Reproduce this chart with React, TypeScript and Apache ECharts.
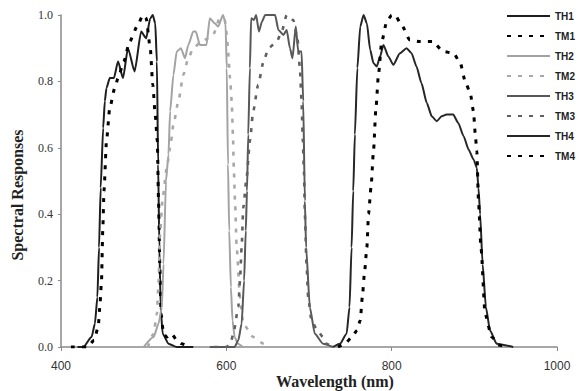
import React, { useEffect, useRef } from "react";
import * as echarts from "echarts";

// Wavelength (nm) / response pairs
const TH1: number[][] = [[420,0],[427,0],[437,0.03],[441,0.07],[444,0.15],[446,0.30],[448,0.48],[451,0.66],[453,0.74],[455,0.78],[459,0.81],[464,0.81],[469,0.86],[475,0.81],[481,0.90],[489,0.83],[497,0.95],[503,0.93],[508,0.99],[511,1.0],[514,0.975],[516,0.86],[517.5,0.55],[519,0.30],[520.5,0.12],[523,0.04],[530,0.01],[540,0],[560,0]];
const TM1: number[][] = [[412,0],[432,0],[440,0.02],[445,0.06],[447,0.12],[449,0.20],[450.5,0.35],[452,0.47],[455,0.62],[459,0.72],[465,0.78],[469,0.81],[476,0.86],[483,0.92],[493,0.97],[499,1.0],[503,0.99],[508,0.90],[511,0.79],[514,0.70],[516.5,0.62],[518,0.44],[519.5,0.25],[521,0.10],[524,0.04],[528,0.03],[534,0.04],[540,0.02],[546,0.01],[555,0]];
const TH2: number[][] = [[500,0],[512,0.03],[518,0.07],[522,0.12],[524,0.25],[527,0.50],[530,0.58],[532,0.71],[536,0.82],[540,0.89],[545,0.90],[550,0.87],[554,0.91],[560,0.95],[563,0.95],[568,0.91],[576,0.91],[580,0.99],[586,0.975],[590,0.965],[596,1.0],[599,0.975],[600.5,0.84],[602,0.55],[603.5,0.35],[605.5,0.18],[607.5,0.08],[610,0.03],[614,0.01],[620,0]];
const TM2: number[][] = [[505,0],[512,0.04],[516,0.10],[518,0.20],[520,0.35],[523,0.45],[528,0.54],[532,0.60],[536,0.67],[542,0.74],[548,0.82],[554,0.87],[560,0.90],[570,0.92],[578,0.93],[584,0.94],[592,0.99],[598,0.985],[600.5,0.945],[602,0.89],[604.5,0.81],[606.5,0.74],[608,0.64],[609,0.54],[610.5,0.44],[612.5,0.30],[616.5,0.15],[620.5,0.07],[632.5,0.03],[645,0.01],[650,0]];
const TH3: number[][] = [[580,0],[610,0],[614.5,0.02],[618.5,0.07],[621.5,0.20],[623.5,0.35],[625,0.47],[626.5,0.64],[628.5,0.84],[630,0.99],[633.5,0.985],[636,1.0],[639.5,0.95],[643,0.98],[647,1.0],[659,1.0],[663,0.955],[669,0.94],[673,0.955],[677,0.90],[680,0.87],[684,0.965],[687,0.89],[691,0.89],[693,0.74],[695,0.44],[696.5,0.30],[701,0.12],[707,0.04],[717,0.01],[729,0]];
const TM3: number[][] = [[585,0],[600,0],[605,0.01],[608.5,0.04],[614.5,0.12],[616.5,0.20],[618.5,0.30],[620.5,0.42],[624.5,0.51],[628.5,0.62],[632.5,0.71],[638.5,0.79],[645,0.86],[651,0.90],[661,0.92],[667,0.95],[673,1.0],[681,0.985],[686,0.93],[689,0.84],[691,0.74],[692.5,0.62],[694,0.52],[695,0.40],[697,0.25],[699,0.15],[703,0.08],[710,0.05],[717,0.03],[721,0.01],[728,0]];
const TH4: number[][] = [[729,0],[737.5,0.01],[745.5,0.04],[749,0.12],[751.5,0.30],[753.5,0.47],[755.5,0.64],[758.5,0.84],[762,0.965],[766,1.0],[770,0.975],[774,0.895],[778,0.855],[782,0.845],[786,0.875],[790,0.91],[796,0.875],[802,0.85],[810,0.885],[818,0.90],[824,0.885],[830,0.845],[836,0.795],[842.5,0.735],[848.5,0.695],[854.5,0.68],[860.5,0.695],[866.5,0.70],[874.5,0.70],[880.5,0.675],[887,0.635],[893,0.595],[899,0.565],[903,0.54],[905,0.48],[907,0.40],[910,0.25],[914,0.12],[919,0.05],[927,0.01],[947,0]];
const TM4: number[][] = [[735,0],[743.5,0.01],[752,0.03],[758,0.05],[762,0.08],[764.5,0.15],[767,0.22],[770,0.30],[772,0.40],[775,0.48],[778,0.59],[781,0.72],[784,0.82],[788,0.92],[794,0.98],[800,1.0],[804,1.0],[812,0.97],[822,0.925],[834,0.92],[850,0.92],[862,0.89],[875,0.885],[883,0.855],[889,0.80],[895,0.765],[899,0.71],[901,0.645],[903,0.59],[905,0.44],[908,0.30],[913,0.10],[921,0.03],[931,0.005],[940,0]];

const NAMES = ["TH1", "TM1", "TH2", "TM2", "TH3", "TM3", "TH4", "TM4"];
const DATA = [TH1, TM1, TH2, TM2, TH3, TM3, TH4, TM4];
const COLORS = ["#1e1e1e", "#000000", "#a3a3a3", "#a8a8a8", "#585858", "#606060", "#262626", "#000000"];
const DASHED = [false, true, false, true, false, true, false, true];

export default function App() {
  const ref = useRef<HTMLDivElement>(null);
  useEffect(() => {
    if (!ref.current) return;
    const chart = echarts.init(ref.current, undefined, { renderer: "svg" });
    const series = NAMES.map((name, i) => ({
      name,
      type: "line",
      data: DATA[i],
      symbol: "none",
      smooth: 0.2,
      smoothMonotone: "x",
      lineStyle: DASHED[i]
        ? { color: COLORS[i], width: i === 3 || i === 5 ? 2.6 : 3, type: [4, 7] }
        : { color: COLORS[i], width: 2, type: "solid" },
      itemStyle: { color: COLORS[i] },
      z: 2,
    }));
    chart.setOption({
      animation: false,
      backgroundColor: "#ffffff",
      grid: { left: 61, right: 29, top: 15, bottom: 44, containLabel: false, outerBoundsMode: "none" },
      legend: {
        orient: "vertical",
        left: 506,
        top: 10,
        padding: 0,
        itemWidth: 43,
        itemHeight: 10,
        itemGap: 8,
        itemStyle: { opacity: 0 },
        data: NAMES,
        textStyle: {
          fontFamily: "Liberation Sans",
          fontWeight: "bold",
          fontSize: 10,
          lineHeight: 12,
          color: "#222",
        },
      },
      xAxis: {
        type: "value",
        min: 400,
        max: 1000,
        interval: 200,
        name: "Wavelength (nm)",
        nameLocation: "middle",
        nameGap: 26,
        nameMoveOverlap: false,
        nameTextStyle: {
          fontFamily: "Liberation Serif",
          fontWeight: "bold",
          fontSize: 16,
          lineHeight: 16,
          color: "#222",
          padding: [0, 0, 0, 52],
        },
        axisLine: { lineStyle: { color: "#8a8a8a", width: 1.5 } },
        axisTick: { show: true, length: 4, lineStyle: { color: "#8a8a8a" } },
        axisLabel: {
          fontFamily: "Liberation Sans",
          fontSize: 12,
          lineHeight: 12,
          color: "#333",
          margin: 13,
          formatter: (v: number) => String(v),
        },
        splitLine: { show: false },
      },
      yAxis: {
        type: "value",
        min: 0,
        max: 1,
        interval: 0.2,
        name: "Spectral Responses",
        nameLocation: "middle",
        nameGap: 36,
        nameMoveOverlap: false,
        nameTextStyle: {
          fontFamily: "Liberation Serif",
          fontWeight: "bold",
          fontSize: 16,
          color: "#222",
          padding: [0, 28, 0, 0],
        },
        axisLine: { show: true, lineStyle: { color: "#8a8a8a", width: 1.5 } },
        axisTick: { show: true, length: 3, lineStyle: { color: "#8a8a8a" } },
        axisLabel: {
          fontFamily: "Liberation Serif",
          fontSize: 12,
          color: "#333",
          margin: 8,
          formatter: (v: number) => v.toFixed(1),
        },
        splitLine: { show: false },
      },
      series,
    });
    return () => chart.dispose();
  }, []);
  return (
    <div
      ref={ref}
      style={{ position: "absolute", left: 0, top: 0, width: 586, height: 391 }}
    />
  );
}
